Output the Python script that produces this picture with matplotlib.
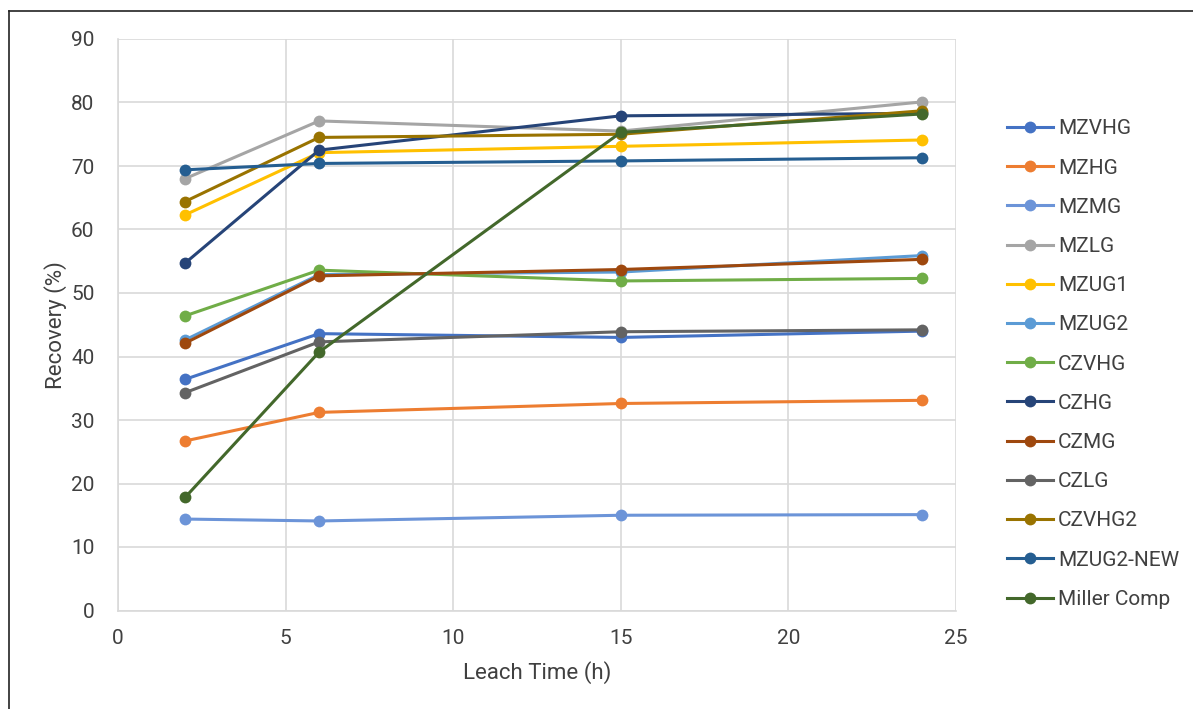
import matplotlib
matplotlib.use("Agg")
import matplotlib.pyplot as plt
from matplotlib.lines import Line2D

plt.rcParams['font.family'] = ['Roboto', 'DejaVu Sans']

leach_time = [2, 6, 15, 24]

series_names = ["MZVHG", "MZHG", "MZMG", "MZLG", "MZUG1", "MZUG2", "CZVHG",
                "CZHG", "CZMG", "CZLG", "CZVHG2", "MZUG2-NEW", "Miller Comp"]

mzvhg = [36.4, 43.6, 43.0, 44.0]
mzhg = [26.7, 31.2, 32.6, 33.1]
mzmg = [14.4, 14.1, 15.0, 15.1]
mzlg = [68.0, 77.1, 75.5, 80.1]
mzug1 = [62.3, 72.1, 73.1, 74.1]
mzug2 = [42.6, 52.9, 53.3, 55.9]
czvhg = [46.4, 53.6, 51.9, 52.3]
czhg = [54.7, 72.5, 77.9, 78.3]
czmg = [42.1, 52.7, 53.7, 55.3]
czlg = [34.3, 42.3, 43.9, 44.2]
czvhg2 = [64.4, 74.5, 75.0, 78.7]
mzug2_new = [69.4, 70.4, 70.8, 71.3]
miller_comp = [17.8, 40.7, 75.3, 78.2]

series_values = [mzvhg, mzhg, mzmg, mzlg, mzug1, mzug2, czvhg,
                 czhg, czmg, czlg, czvhg2, mzug2_new, miller_comp]

colors = ["#4472C4", "#ED7D31", "#6C94D8", "#A5A5A5", "#FFC000", "#5B9BD5",
          "#70AD47", "#264478", "#9E480E", "#636363", "#997300", "#255E91",
          "#43682B"]

x_ticks = [0, 5, 10, 15, 20, 25]
y_ticks = [0, 10, 20, 30, 40, 50, 60, 70, 80, 90]

fig = plt.figure(figsize=(11.93, 7.09), dpi=100)
ax = fig.add_axes([118 / 1193, 1 - 610.5 / 709, (956 - 118) / 1193, (610.5 - 39) / 709])

grid_color = "#D9D9D9"
text_color = "#404040"
for name, vals, c in zip(series_names, series_values, colors):
    ax.plot(leach_time, vals, color=c, lw=2.2, marker="o", ms=8.5,
            markeredgewidth=0, label=name, solid_capstyle="round", zorder=3)

ax.set_xlim(0, 25)
ax.set_ylim(0, 90)
ax.set_xticks(x_ticks)
ax.set_yticks(y_ticks)
ax.grid(True, color=grid_color, lw=1.2, zorder=0)
for side in ["top", "right"]:
    ax.spines[side].set_visible(False)
for side in ["left", "bottom"]:
    ax.spines[side].set_color(grid_color)
    ax.spines[side].set_linewidth(1.2)
ax.tick_params(length=0, labelsize=15, labelcolor=text_color)
ax.tick_params(axis="x", pad=13)
ax.tick_params(axis="y", pad=17)

ax.set_xlabel("Leach Time (h)", fontsize=16, color=text_color, labelpad=10)
ax.set_ylabel("Recovery (%)", fontsize=16, color=text_color, labelpad=3)

handles = [Line2D([0], [0], color=c, lw=2.2, marker="o", ms=8.5, markeredgewidth=0)
           for c in colors]
leg = fig.legend(handles, series_names, loc="upper left",
                 bbox_to_anchor=(999 / 1193, 1 - 111 / 709), frameon=False,
                 fontsize=15, handlelength=2.2, handletextpad=0.22,
                 labelspacing=0.97, borderaxespad=0)
for t in leg.get_texts():
    t.set_color(text_color)

# outer frame (top and left edges)
fig.add_artist(Line2D([9 / 1193, 9 / 1193], [0, 1 - 11 / 709], color="#222222",
                      lw=1.2, transform=fig.transFigure))
fig.add_artist(Line2D([9 / 1193, 1], [1 - 11 / 709, 1 - 11 / 709], color="#222222",
                      lw=1.2, transform=fig.transFigure))

fig.savefig("out.png", dpi=100, facecolor="white")
